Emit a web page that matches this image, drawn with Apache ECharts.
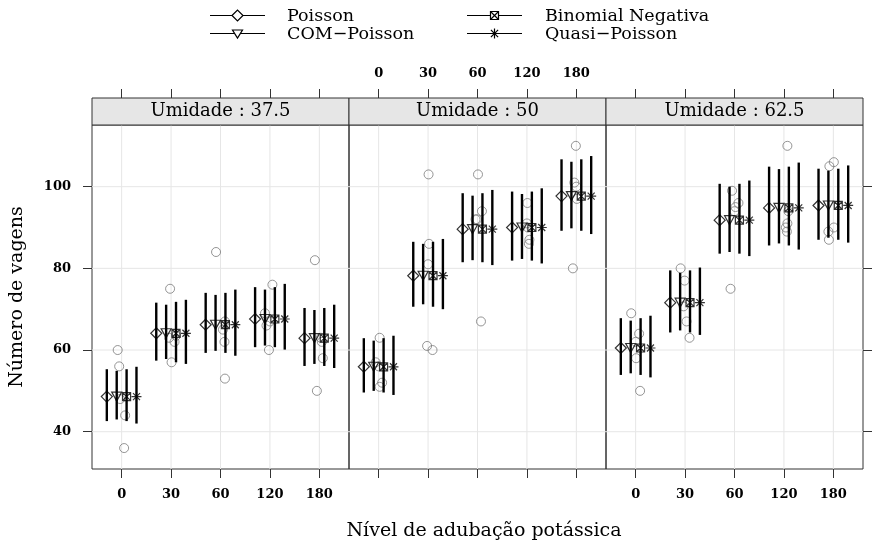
<!DOCTYPE html>
<html><head><meta charset="utf-8">
<script src="https://cdn.jsdelivr.net/npm/echarts@6/dist/echarts.min.js"></script>
<style>html,body{margin:0;padding:0;background:#fff}#c{width:872px;height:542px}</style>
</head><body><div id="c"></div><script>
// ---------------- data ----------------
const panels = ['Umidade : 37.5', 'Umidade : 50', 'Umidade : 62.5'];
const doses = ['0', '30', '60', '120', '180'];
const yTicks = [40, 60, 80, 100];
const models = ['Poisson', 'COM\u2212Poisson', 'Binomial Negativa', 'Quasi\u2212Poisson'];

// fitted means (panel-major: 37.5 | 50 | 62.5, doses 0..180)
const fitMean = [48.6, 64.1, 66.2, 67.6, 62.9,
                 55.9, 78.2, 89.6, 90.0, 97.7,
                 60.5, 71.6, 91.8, 94.8, 95.4];
const poissonLwr = [42.6, 57.4, 59.3, 60.7, 56.1, 49.6, 70.6, 81.5, 81.9, 89.2, 53.9, 64.3, 83.6, 85.6, 87.0];
const poissonUpr = [55.3, 71.6, 74.0, 75.4, 70.3, 62.9, 86.5, 98.4, 98.8, 106.7, 67.8, 79.5, 100.7, 104.9, 104.4];
const comLwr = [43.0, 57.8, 59.8, 61.1, 56.6, 50.0, 71.2, 82.0, 82.3, 89.8, 54.3, 64.8, 84.0, 86.1, 87.5];
const comUpr = [54.9, 71.1, 73.5, 74.8, 69.8, 62.3, 86.0, 97.8, 98.2, 106.1, 67.2, 78.9, 100.0, 104.3, 103.9];
const nbLwr = [42.6, 57.0, 59.3, 60.7, 56.1, 49.6, 70.6, 81.5, 81.9, 89.2, 53.9, 64.3, 83.6, 85.6, 87.0];
const nbUpr = [55.3, 71.8, 74.0, 75.4, 70.3, 62.9, 86.5, 98.4, 98.8, 106.7, 67.8, 79.5, 100.7, 104.9, 104.4];
const qpLwr = [42.0, 56.6, 58.6, 60.1, 55.6, 49.0, 70.0, 80.8, 81.2, 88.4, 53.3, 63.7, 83.0, 84.6, 86.3];
const qpUpr = [55.9, 72.3, 74.8, 76.2, 71.1, 63.5, 87.2, 99.2, 99.6, 107.5, 68.4, 80.2, 101.5, 105.9, 105.2];

const obsUmid375 = [[60, 56, 48, 44, 36], [75, 63.5, 63, 62, 57], [84, 67, 65, 62, 53], [76, 69, 67, 66, 60], [82, 63, 62, 58, 50]];
const obsUmid50  = [[63, 57, 56, 52, 51], [103, 86, 81, 61, 60], [103, 94, 92, 92, 67], [96, 91, 90, 87, 86], [110, 101, 100, 97, 80]];
const obsUmid625 = [[69, 64, 62, 58, 50], [80, 77, 70.7, 67, 63], [99, 96, 95, 94, 75], [110, 94, 91, 90, 89], [106, 105, 90, 89, 87]];
const jitUmid375 = [[-0.08, -0.05, -0.03, 0.07, 0.05], [-0.02, 0.1, -0.04, 0.07, 0.01], [-0.09, 0.09, 0.05, 0.08, 0.09], [0.05, -0.1, 0.0, -0.07, -0.02], [-0.09, 0.03, 0.05, 0.07, -0.05]];
const jitUmid50  = [[0.02, -0.06, 0.0, 0.07, 0.02], [0.01, 0.02, 0.0, -0.02, 0.09], [0.01, 0.09, -0.01, -0.04, 0.07], [0.01, 0.0, 0.02, 0.05, 0.04], [-0.01, -0.04, 0.0, 0.01, -0.07]];
const jitUmid625 = [[-0.09, 0.07, 0.0, 0.01, 0.09], [-0.09, -0.01, -0.03, 0.03, 0.09], [-0.05, 0.08, 0.02, 0.0, -0.08], [0.07, 0.09, 0.07, 0.04, 0.06], [0.01, -0.08, 0.01, -0.1, -0.09]];

// ---------------- layout / style ----------------
const FONT = '"DejaVu Serif", serif';
const gridLeft = [92, 349, 606];
const GT = 125, GW = 257, GH = 344, STRIP_H = 27;
const X_MIN = 0.4, X_MAX = 5.6, Y_MIN = 30.87, Y_MAX = 115.1;
const modelOffset = [-0.3, -0.1, 0.1, 0.3];
const dosePos = doses.map((d, i) => i + 1);
const lwr = [poissonLwr, comLwr, nbLwr, qpLwr];
const upr = [poissonUpr, comUpr, nbUpr, qpUpr];
const obs = [obsUmid375, obsUmid50, obsUmid625];
const jit = [jitUmid375, jitUmid50, jitUmid625];
const symbols = [
  {symbol: 'diamond', size: [11, 11], rotate: 0},
  {symbol: 'triangle', size: [10, 9], rotate: 180},
  {symbol: 'path://M0,0L10,0L10,10L0,10ZM0,0L10,10M10,0L0,10', size: [8, 8], rotate: 0},
  {symbol: 'path://M5,0L5,10M0,5L10,5M1.5,1.5L8.5,8.5M8.5,1.5L1.5,8.5', size: [10, 10], rotate: 0}
];

const tickLine = {color: '#333', width: 1};
const labelStyle = {fontFamily: FONT, fontSize: 13, fontWeight: 'bold', color: '#000'};

const grid = [], xAxis = [], yAxis = [], series = [], graphic = [];
panels.forEach((name, p) => {
  grid.push({left: gridLeft[p], top: GT, width: GW, height: GH, show: true,
    borderColor: '#333', borderWidth: 1, backgroundColor: 'transparent', outerBoundsMode: 'none', containLabel: false});
  xAxis.push({type: 'value', gridIndex: p, position: 'bottom', min: X_MIN, max: X_MAX,
    axisLine: {show: false}, splitLine: {show: false},
    axisTick: {show: true, inside: false, length: 9, customValues: dosePos, lineStyle: tickLine},
    axisLabel: Object.assign({show: p !== 1, customValues: dosePos, margin: 19,
      formatter: v => doses[Math.round(v) - 1]}, labelStyle)});
  xAxis.push({type: 'value', gridIndex: p, position: 'top', offset: STRIP_H, min: X_MIN, max: X_MAX,
    axisLine: {show: false}, splitLine: {show: false},
    axisTick: {show: true, inside: false, length: 9, customValues: dosePos, lineStyle: tickLine},
    axisLabel: Object.assign({show: p === 1, customValues: dosePos, margin: 18,
      formatter: v => doses[Math.round(v) - 1]}, labelStyle)});
  yAxis.push({type: 'value', gridIndex: p, position: p === 2 ? 'right' : 'left', min: Y_MIN, max: Y_MAX,
    axisLine: {show: false}, splitLine: {show: false},
    axisTick: {show: p !== 1, inside: false, length: 9, customValues: yTicks, lineStyle: tickLine},
    axisLabel: Object.assign({show: p === 0, customValues: yTicks, margin: 21}, labelStyle)});

  const xi = p * 2, yi = p;
  const gl = dosePos.map(v => [0, v]).concat(yTicks.map(v => [1, v]));
  series.push({type: 'custom', xAxisIndex: xi, yAxisIndex: yi, z: 1, silent: true, data: gl,
    renderItem: (params, api) => {
      const cs = params.coordSys;
      const kind = api.value(0), v = api.value(1);
      let shape;
      if (kind === 0) {
        const c = api.coord([v, (Y_MIN + Y_MAX) / 2]);
        shape = {x1: c[0], y1: cs.y, x2: c[0], y2: cs.y + cs.height};
      } else {
        const c = api.coord([(X_MIN + X_MAX) / 2, v]);
        shape = {x1: cs.x, y1: c[1], x2: cs.x + cs.width, y2: c[1]};
      }
      return {type: 'line', shape, style: {stroke: '#e6e6e6', lineWidth: 1}};
    }});
  const od = [];
  obs[p].forEach((vals, d) => vals.forEach((v, k) => od.push([dosePos[d] + jit[p][d][k], v])));
  series.push({type: 'scatter', name: 'obs', xAxisIndex: xi, yAxisIndex: yi, z: 2, silent: true,
    symbol: 'circle', symbolSize: 9, data: od, emphasis: {disabled: true},
    itemStyle: {color: 'rgba(0,0,0,0)', borderColor: '#7a7a7a', borderWidth: 1}});
  const ed = [];
  models.forEach((m, k) => dosePos.forEach((x, d) => {
    const idx = p * 5 + d;
    ed.push([x + modelOffset[k], lwr[k][idx], upr[k][idx]]);
  }));
  series.push({type: 'custom', xAxisIndex: xi, yAxisIndex: yi, z: 3, silent: true, data: ed,
    encode: {x: 0, y: [1, 2]},
    renderItem: (params, api) => {
      const a = api.coord([api.value(0), api.value(1)]);
      const b = api.coord([api.value(0), api.value(2)]);
      return {type: 'line', shape: {x1: a[0], y1: a[1], x2: b[0], y2: b[1]},
        style: {stroke: '#000', lineWidth: 2.4}};
    }});
  models.forEach((m, k) => {
    series.push({type: 'scatter', name: m, xAxisIndex: xi, yAxisIndex: yi, z: 4, silent: true,
      symbol: symbols[k].symbol, symbolSize: symbols[k].size, symbolRotate: symbols[k].rotate,
      emphasis: {disabled: true},
      data: dosePos.map((x, d) => [x + modelOffset[k], fitMean[p * 5 + d]]),
      itemStyle: {color: 'rgba(0,0,0,0)', borderColor: '#000', borderWidth: 1.2}});
  });
  graphic.push({type: 'rect', z: 10, shape: {x: gridLeft[p], y: GT - STRIP_H, width: GW, height: STRIP_H},
    style: {fill: '#e6e6e6', stroke: '#333', lineWidth: 1}});
  graphic.push({type: 'text', z: 11, x: gridLeft[p] + GW / 2, y: GT - STRIP_H / 2,
    style: {text: name, fontFamily: FONT, fontSize: 18, fill: '#000', align: 'center', verticalAlign: 'middle'}});
});
graphic.push({type: 'text', x: 484, y: 531,
  style: {text: 'Nível de adubação potássica', fontFamily: FONT, fontSize: 19, fill: '#000', align: 'center', verticalAlign: 'middle'}});
graphic.push({type: 'text', x: 17, y: 297, rotation: Math.PI / 2,
  style: {text: 'Número de vagens', fontFamily: FONT, fontSize: 19, fill: '#000', align: 'center', verticalAlign: 'middle'}});

// ---------------- key (two columns) ----------------
const keyLineX = [210, 467], keyTextX = [287, 545], keyRowY = [15.5, 33.5];
const ks = {stroke: '#000', lineWidth: 1.2, fill: '#fff'};
models.forEach((m, k) => {
  const col = Math.floor(k / 2), row = k % 2;
  const x0 = keyLineX[col], y = keyRowY[row], cx = x0 + 27.5;
  graphic.push({type: 'line', shape: {x1: x0, y1: y, x2: x0 + 55, y2: y}, style: {stroke: '#000', lineWidth: 1}});
  if (k === 0) {
    graphic.push({type: 'polygon', shape: {points: [[cx - 5.5, y], [cx, y - 5.5], [cx + 5.5, y], [cx, y + 5.5]]}, style: ks});
  } else if (k === 1) {
    graphic.push({type: 'polygon', shape: {points: [[cx - 5, y - 3.5], [cx + 5, y - 3.5], [cx, y + 4.5]]}, style: ks});
  } else if (k === 2) {
    graphic.push({type: 'rect', shape: {x: cx - 4, y: y - 4, width: 8, height: 8}, style: ks});
    graphic.push({type: 'line', shape: {x1: cx - 4, y1: y - 4, x2: cx + 4, y2: y + 4}, style: {stroke: '#000', lineWidth: 1.1}});
    graphic.push({type: 'line', shape: {x1: cx + 4, y1: y - 4, x2: cx - 4, y2: y + 4}, style: {stroke: '#000', lineWidth: 1.1}});
  } else {
    graphic.push({type: 'line', shape: {x1: cx, y1: y - 5, x2: cx, y2: y + 5}, style: {stroke: '#000', lineWidth: 1.2}});
    graphic.push({type: 'line', shape: {x1: cx - 3.6, y1: y - 3.6, x2: cx + 3.6, y2: y + 3.6}, style: {stroke: '#000', lineWidth: 1.2}});
    graphic.push({type: 'line', shape: {x1: cx + 3.6, y1: y - 3.6, x2: cx - 3.6, y2: y + 3.6}, style: {stroke: '#000', lineWidth: 1.2}});
  }
  graphic.push({type: 'text', x: keyTextX[col], y: y + 1,
    style: {text: m, fontFamily: FONT, fontSize: 17.5, fill: '#000', align: 'left', verticalAlign: 'middle'}});
});

const chart = echarts.init(document.getElementById('c'), null, {renderer: 'canvas'});
chart.setOption({animation: false, backgroundColor: '#fff', grid, xAxis, yAxis, series, graphic});
</script></body></html>
